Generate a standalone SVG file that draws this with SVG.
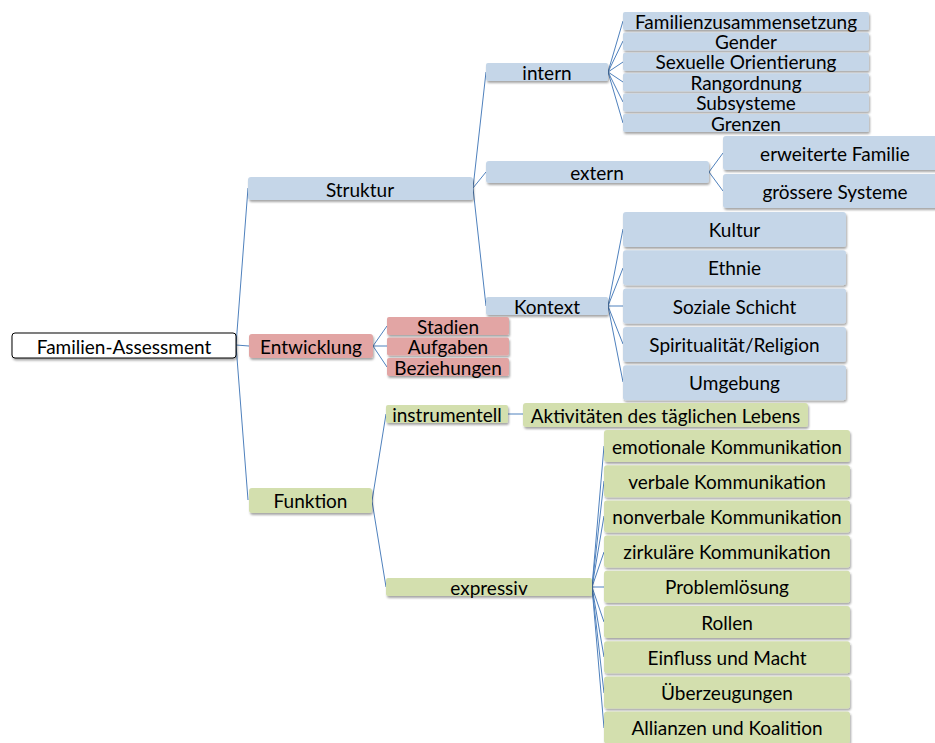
<svg xmlns="http://www.w3.org/2000/svg" width="935" height="743" viewBox="0 0 935 743">
<defs>
<filter id="sh" x="-10%" y="-30%" width="120%" height="170%">
<feDropShadow dx="1" dy="2" stdDeviation="1" flood-color="#000" flood-opacity="0.35"/>
</filter>
<style>
text{font-family:Lato,"Open Sans","Liberation Sans",sans-serif;font-size:19px;fill:#000;text-anchor:middle;dominant-baseline:central}
.b{fill:#c5d6e8}
.r{fill:#e2a5a4}
.g{fill:#d3dfae}
.w{fill:#fff;stroke:#000;stroke-width:1}
rect{filter:url(#sh)}
.c path{fill:none;stroke:#4f81bd;stroke-width:1}
</style>
</defs>
<g class="c" id="connectors">
<path d="M236,345 L248,188 M236,345 L249,346 M236,345 L248,500"/>
<path d="M473,188 L486,72 M473,188 L486,172 M473,188 L486,306"/>
<path d="M608,72 L623,21 M608,72 L623,41 M608,72 L623,62 M608,72 L623,82 M608,72 L623,102 M608,72 L623,123"/>
<path d="M709,172 L723,153 M709,172 L723,191"/>
<path d="M608,306 L623,229 M608,306 L623,268 M608,306 L623,306 M608,306 L623,344 M608,306 L623,382"/>
<path d="M373,346 L387,326 M373,346 L387,346 M373,346 L387,367"/>
<path d="M372,501 L386,414 M372,501 L386,587"/>
<path d="M508,414 L523,414"/>
<path d="M592,587 L604,446 M592,587 L604,481 M592,587 L604,516 M592,587 L604,552 M592,587 L604,587 M592,587 L604,622 M592,587 L604,657 M592,587 L604,693 M592,587 L604,728"/>
</g>
<g id="root"><rect class="w" x="12" y="333" width="224" height="25" rx="3"/><text x="124" y="346">Familien-Assessment</text></g>
<g id="struktur"><rect class="b" x="248" y="177" width="225" height="23" rx="3"/><text x="360" y="189">Struktur</text></g>
<g id="intern"><rect class="b" x="486" y="63" width="122" height="18" rx="2"/><text x="547" y="72">intern</text></g>
<g id="familienzusammensetzung"><rect class="b" x="623" y="12" width="246" height="18" rx="2"/><text x="746" y="21">Familienzusammensetzung</text></g>
<g id="gender"><rect class="b" x="623" y="32.4" width="246" height="18" rx="2"/><text x="746" y="41.4">Gender</text></g>
<g id="sexuelle"><rect class="b" x="623" y="52.8" width="246" height="18" rx="2"/><text x="746" y="61.8">Sexuelle Orientierung</text></g>
<g id="rangordnung"><rect class="b" x="623" y="73.2" width="246" height="18" rx="2"/><text x="746" y="82.2">Rangordnung</text></g>
<g id="subsysteme"><rect class="b" x="623" y="93.6" width="246" height="18" rx="2"/><text x="746" y="102.6">Subsysteme</text></g>
<g id="grenzen"><rect class="b" x="623" y="114" width="246" height="18" rx="2"/><text x="746" y="123">Grenzen</text></g>
<g id="extern"><rect class="b" x="486" y="161" width="223" height="22" rx="3"/><text x="597" y="172">extern</text></g>
<g id="erweiterte"><rect class="b" x="723" y="136" width="224" height="34" rx="3"/><text x="835" y="153">erweiterte Familie</text></g>
<g id="groessere"><rect class="b" x="723" y="174" width="224" height="34" rx="3"/><text x="835" y="191">grössere Systeme</text></g>
<g id="kontext"><rect class="b" x="486" y="297" width="122" height="18" rx="2"/><text x="547" y="306">Kontext</text></g>
<g id="kultur"><rect class="b" x="623" y="212" width="223" height="35" rx="3"/><text x="734.5" y="229.5">Kultur</text></g>
<g id="ethnie"><rect class="b" x="623" y="250.3" width="223" height="35" rx="3"/><text x="734.5" y="267.8">Ethnie</text></g>
<g id="soziale"><rect class="b" x="623" y="288.6" width="223" height="35" rx="3"/><text x="734.5" y="306.1">Soziale Schicht</text></g>
<g id="spiritualitaet"><rect class="b" x="623" y="326.9" width="223" height="35" rx="3"/><text x="734.5" y="344.4">Spiritualität/Religion</text></g>
<g id="umgebung"><rect class="b" x="623" y="365.2" width="223" height="35" rx="3"/><text x="734.5" y="382.7">Umgebung</text></g>
<g id="entwicklung"><rect class="r" x="249" y="334" width="124" height="24" rx="3"/><text x="311" y="346">Entwicklung</text></g>
<g id="stadien"><rect class="r" x="387" y="317" width="122" height="18" rx="2"/><text x="448" y="326">Stadien</text></g>
<g id="aufgaben"><rect class="r" x="387" y="337.5" width="122" height="18" rx="2"/><text x="448" y="346.5">Aufgaben</text></g>
<g id="beziehungen"><rect class="r" x="387" y="358" width="122" height="18" rx="2"/><text x="448" y="367">Beziehungen</text></g>
<g id="funktion"><rect class="g" x="249" y="488" width="123" height="25" rx="3"/><text x="310.5" y="500.5">Funktion</text></g>
<g id="instrumentell"><rect class="g" x="386" y="405" width="122" height="18" rx="2"/><text x="447" y="414">instrumentell</text></g>
<g id="aktivitaeten"><rect class="g" x="523" y="403" width="285" height="24" rx="3"/><text x="665.5" y="415">Aktivitäten des täglichen Lebens</text></g>
<g id="expressiv"><rect class="g" x="386" y="578" width="206" height="18" rx="2"/><text x="489" y="587">expressiv</text></g>
<g id="emotionale"><rect class="g" x="604" y="430" width="246" height="32" rx="3"/><text x="727" y="446">emotionale Kommunikation</text></g>
<g id="verbale"><rect class="g" x="604" y="465.2" width="246" height="32" rx="3"/><text x="727" y="481.2">verbale Kommunikation</text></g>
<g id="nonverbale"><rect class="g" x="604" y="500.4" width="246" height="32" rx="3"/><text x="727" y="516.4">nonverbale Kommunikation</text></g>
<g id="zirkulaere"><rect class="g" x="604" y="535.6" width="246" height="32" rx="3"/><text x="727" y="551.6">zirkuläre Kommunikation</text></g>
<g id="problemloesung"><rect class="g" x="604" y="570.8" width="246" height="32" rx="3"/><text x="727" y="586.8">Problemlösung</text></g>
<g id="rollen"><rect class="g" x="604" y="606" width="246" height="32" rx="3"/><text x="727" y="622">Rollen</text></g>
<g id="einfluss"><rect class="g" x="604" y="641.2" width="246" height="32" rx="3"/><text x="727" y="657.2">Einfluss und Macht</text></g>
<g id="ueberzeugungen"><rect class="g" x="604" y="676.4" width="246" height="32" rx="3"/><text x="727" y="692.4">Überzeugungen</text></g>
<g id="allianzen"><rect class="g" x="604" y="711.6" width="246" height="32" rx="3"/><text x="727" y="727.6">Allianzen und Koalition</text></g>
</svg>
